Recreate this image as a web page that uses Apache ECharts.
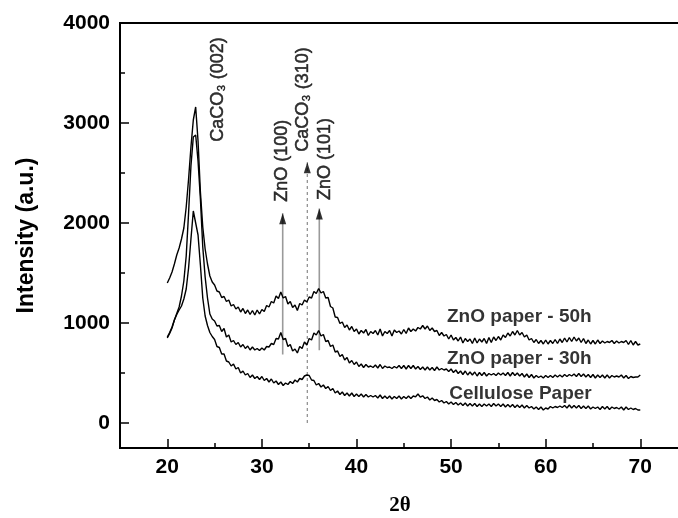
<!DOCTYPE html>
<html><head><meta charset="utf-8">
<script src="https://cdn.jsdelivr.net/npm/echarts@6/dist/echarts.min.js"></script>
<style>html,body{margin:0;padding:0;background:#fff}#c{width:678px;height:518px}</style>
</head><body><div id="c"></div>
<script>
// 2-theta scan positions (degrees)
const twoTheta = [
20,20.25,20.5,20.75,21,21.25,21.5,21.75,22,22.25,22.5,22.75,23,23.25,23.5,23.75,24,24.25,24.5,24.75,
25,25.25,25.5,25.75,26,26.25,26.5,26.75,27,27.25,27.5,27.75,28,28.25,28.5,28.75,29,29.25,29.5,29.75,
30,30.25,30.5,30.75,31,31.25,31.5,31.75,32,32.25,32.5,32.75,33,33.25,33.5,33.75,34,34.25,34.5,34.75,
35,35.25,35.5,35.75,36,36.25,36.5,36.75,37,37.25,37.5,37.75,38,38.25,38.5,38.75,39,39.25,39.5,39.75,
40,40.25,40.5,40.75,41,41.25,41.5,41.75,42,42.25,42.5,42.75,43,43.25,43.5,43.75,44,44.25,44.5,44.75,
45,45.25,45.5,45.75,46,46.25,46.5,46.75,47,47.25,47.5,47.75,48,48.25,48.5,48.75,49,49.25,49.5,49.75,
50,50.25,50.5,50.75,51,51.25,51.5,51.75,52,52.25,52.5,52.75,53,53.25,53.5,53.75,54,54.25,54.5,54.75,
55,55.25,55.5,55.75,56,56.25,56.5,56.75,57,57.25,57.5,57.75,58,58.25,58.5,58.75,59,59.25,59.5,59.75,
60,60.25,60.5,60.75,61,61.25,61.5,61.75,62,62.25,62.5,62.75,63,63.25,63.5,63.75,64,64.25,64.5,64.75,
65,65.25,65.5,65.75,66,66.25,66.5,66.75,67,67.25,67.5,67.75,68,68.25,68.5,68.75,69,69.25,69.5,69.75,
70];

const zno50h = [
1400,1450,1510,1590, 1680,1750,1840,1950, 2160,2440,2760,3030, 3160,2820,2310,1960, 1740,1590,1470,1410,
1380,1320,1310,1255, 1265,1215,1230,1170, 1185,1140,1160,1110, 1145,1095,1130,1085, 1125,1080,1130,1090,
1135,1115,1175,1160, 1215,1200,1270,1245, 1310,1250,1265,1190, 1215,1155,1180,1125, 1195,1180,1230,1210,
1260,1250,1315,1295, 1345,1300,1315,1250, 1255,1165,1150,1060, 1055,995,1010,955, 980,930,965,915,
940,890,925,900, 935,875,915,895, 925,880,940,870, 915,895,925,870, 930,905,920,890,
935,895,950,915, 940,920,955,940, 975,940,970,925, 950,915,925,875, 905,870,885,840,
880,830,855,820, 860,800,845,815, 840,795,850,800, 840,810,845,795, 855,805,860,825,
865,830,880,855, 900,870,915,880, 925,880,905,860, 880,830,845,805, 835,795,825,790,
830,790,825,795, 835,795,840,805, 850,810,855,815, 860,820,850,805, 845,795,830,790,
825,790,830,795, 820,800,815,805, 825,795,820,800, 815,805,825,785, 825,780,815,780,
790];

const zno30h = [
860,905,960,1030, 1095,1160,1270,1420, 1670,2100,2570,2860, 2880,2620,2240,1760, 1460,1250,1090,1040,
1020,970,975,915, 945,860,880,810, 825,785,805,760, 785,745,770,730, 760,730,745,725,
750,730,765,760, 795,785,845,840, 905,835,845,765, 785,720,740,700, 765,745,810,780,
845,830,900,880, 925,870,885,815, 825,765,780,710, 720,665,685,630, 655,600,625,585,
610,565,590,555, 585,560,570,555, 580,550,585,545, 570,555,560,545, 565,550,575,545,
575,540,575,545, 575,540,565,535, 560,530,560,530, 555,525,560,530, 545,530,540,515,
540,505,530,495, 520,485,520,480, 510,480,510,470, 505,475,505,470, 495,480,495,475,
500,480,500,475, 505,470,505,475, 500,470,495,460, 490,455,485,450, 475,455,470,450,
475,455,475,455, 480,460,480,460, 485,465,485,470, 490,465,495,465, 490,460,485,455,
485,450,480,455, 480,450,480,450, 475,460,470,460, 480,450,475,445, 465,455,460,460,
480];

const cellulose = [
850,895,950,1030, 1085,1130,1170,1240, 1340,1550,1840,2120, 2000,1880,1580,1250, 1070,975,905,865,
835,765,755,690, 690,620,610,570, 590,540,555,500, 520,480,495,455, 480,445,465,435,
465,425,445,410, 440,400,420,385, 410,375,400,385, 415,395,430,410, 445,435,470,480,
475,430,425,380, 395,360,380,345, 365,325,345,300, 320,285,310,275, 300,270,300,265,
290,265,290,260, 285,260,275,260, 275,250,280,245, 270,245,270,240, 265,245,270,240,
265,245,270,245, 270,262,290,258, 272,245,260,230, 250,225,235,210, 225,200,215,190,
210,185,205,180, 200,175,200,170, 195,170,195,165, 190,165,190,170, 190,165,195,170,
190,165,190,160, 185,160,185,155, 180,155,180,150, 175,150,165,140, 160,135,160,130,
150,140,165,150, 165,155,170,155, 175,150,180,150, 175,150,175,145, 170,145,170,140,
160,145,160,135, 165,140,165,135, 160,145,155,140, 160,130,160,135, 150,135,145,130,
130];

const seriesNames = ['ZnO paper - 50h', 'ZnO paper - 30h', 'Cellulose Paper'];
const seriesData = [zno50h, zno30h, cellulose];
// anchor (2θ, intensity) of each curve's name label
const nameAnchorX = [49.57, 49.57, 49.8];
const nameAnchorY = [1060, 647, 293];

const xMajorTicks = [20, 30, 40, 50, 60, 70];
const xMinorTicks = [25, 35, 45, 55, 65];
const yMajorTicks = [0, 1000, 2000, 3000, 4000];
const yMinorTicks = [500, 1500, 2500, 3500];

// reflection markers
const peakNames = ['ZnO (100)', 'CaCO\u2083 (310)', 'ZnO (101)', 'CaCO\u2083 (002)'];
const peakLabelX = [32.1, 34.38, 36.67, 25.39];
const peakLabelY = [2213, 2713, 2230, 2813];
const arrowPos = [32.2, 34.8, 36.07];
const arrowFrom = [685, 0, 728];
const arrowTo = [2097, 2608, 2146];

const chart = echarts.init(document.getElementById('c'), null, {renderer: 'canvas'});

function pairs(xs, ys) { return ys.map((v, i) => [xs[i], v]); }

const SANS = '"Liberation Sans", Arial, sans-serif';
const tickFont = {fontFamily: SANS, fontWeight: 'bold', fontSize: 21, color: '#000'};

const series = [];
seriesData.forEach((d, i) => {
  series.push({
    type: 'line', name: seriesNames[i], data: pairs(twoTheta, d),
    showSymbol: false, symbol: 'none', silent: true,
    lineStyle: {color: '#000', width: 1.4}, z: 5
  });
});
// curve name labels
series.push({
  type: 'scatter', symbolSize: 0, silent: true, z: 6,
  data: seriesNames.map((n, i) => ({value: [nameAnchorX[i], nameAnchorY[i]], name: n})),
  label: {show: true, position: [0, 0], align: 'left', verticalAlign: 'middle', formatter: p => p.name,
    fontFamily: SANS, fontWeight: 'bold', fontSize: 19, color: '#000'}
});
// marker lines
arrowPos.forEach((x, i) => {
  series.push({
    type: 'line', data: [[x, arrowFrom[i]], [x, arrowTo[i]]], showSymbol: false, symbol: 'none', silent: true, z: 3,
    lineStyle: i === 1 ? {color: '#8a8a8a', width: 1.2, type: [3, 3]} : {color: '#9a9a9a', width: 1.6}
  });
});
// arrow heads
series.push({
  type: 'scatter', symbol: 'triangle', symbolSize: [7, 11], symbolOffset: [0, 5.5], silent: true, z: 4,
  itemStyle: {color: '#000'},
  data: arrowPos.map((x, i) => [x, arrowTo[i]])
});
// rotated reflection labels
series.push({
  type: 'scatter', symbolSize: 0, silent: true, z: 6,
  data: peakNames.map((n, i) => ({value: [peakLabelX[i], peakLabelY[i]], name: n})),
  label: {show: true, position: [0, 0], rotate: 90, align: 'left', verticalAlign: 'middle',
    formatter: p => p.name, fontFamily: SANS, fontSize: 18, color: '#000',
    textBorderColor: '#000', textBorderWidth: 0.5}
});

const option = {
  animation: false,
  backgroundColor: '#fff',
  grid: {left: 120, right: -2, top: 23, bottom: 70, containLabel: false, outerBoundsMode: 'none',
    show: true, borderColor: '#000', borderWidth: 2, backgroundColor: 'transparent'},
  xAxis: [
    {type: 'value', min: 15, max: 74.2, position: 'bottom',
      axisLine: {show: true, onZero: false, lineStyle: {color: '#000', width: 2}},
      axisTick: {show: true, inside: true, length: 9, customValues: xMajorTicks, lineStyle: {color: '#000', width: 1.5}},
      axisLabel: Object.assign({show: true, margin: 9, customValues: xMajorTicks, formatter: v => String(v)}, tickFont),
      splitLine: {show: false},
      name: '2θ', nameLocation: 'middle', nameGap: 47,
      nameTextStyle: {fontFamily: '"Liberation Serif", "Times New Roman", serif', fontWeight: 'bold', fontSize: 21, color: '#000'}},
    {type: 'value', min: 15, max: 74.2, position: 'bottom',
      axisLine: {show: false, onZero: false}, axisLabel: {show: false}, splitLine: {show: false},
      axisTick: {show: true, inside: true, length: 5, customValues: xMinorTicks, lineStyle: {color: '#000', width: 1.5}}}
  ],
  yAxis: [
    {type: 'value', min: -250, max: 4000, position: 'left',
      axisLine: {show: true, onZero: false, lineStyle: {color: '#000', width: 2}},
      axisTick: {show: true, inside: true, length: 9, customValues: yMajorTicks, lineStyle: {color: '#000', width: 1.5}},
      axisLabel: Object.assign({show: true, margin: 10, customValues: yMajorTicks, formatter: v => String(v)}, tickFont),
      splitLine: {show: false},
      name: 'Intensity (a.u.)', nameLocation: 'middle', nameGap: 82,
      nameTextStyle: {fontFamily: SANS, fontWeight: 'bold', fontSize: 23, color: '#000'}},
    {type: 'value', min: -250, max: 4000, position: 'left',
      axisLine: {show: false, onZero: false}, axisLabel: {show: false}, splitLine: {show: false},
      axisTick: {show: true, inside: true, length: 5, customValues: yMinorTicks, lineStyle: {color: '#000', width: 1.5}}}
  ],
  series: series
};
chart.setOption(option);
</script>
</body></html>
